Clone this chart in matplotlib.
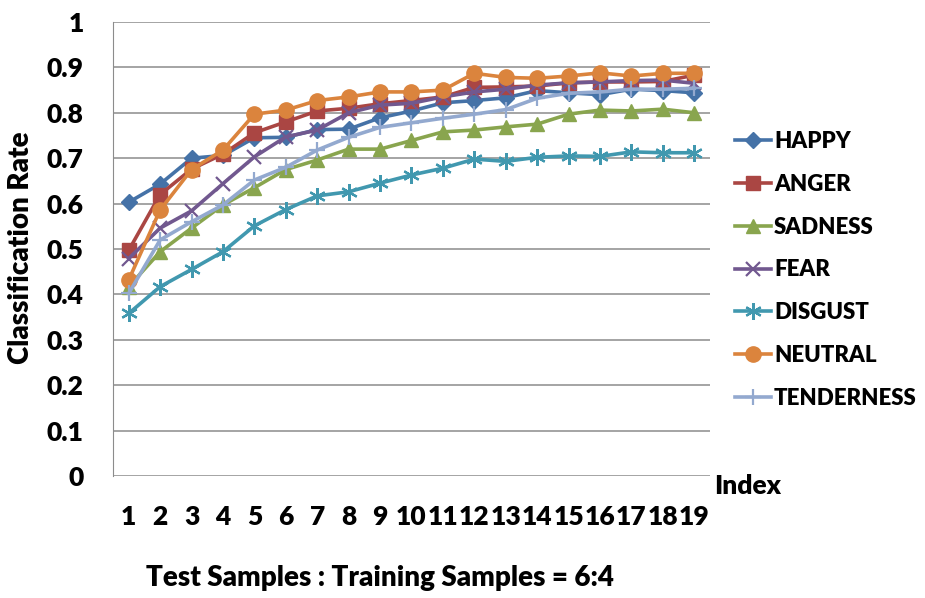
import matplotlib
matplotlib.use("Agg")
import matplotlib.pyplot as plt
import numpy as np

plt.rcParams['font.family'] = ['Lato', 'DejaVu Sans']

index = list(range(1, 20))
happy = [0.603, 0.643, 0.700, 0.706, 0.745, 0.746, 0.763, 0.764, 0.789, 0.804, 0.822, 0.827, 0.833, 0.849, 0.844, 0.840, 0.852, 0.849, 0.844]
anger = [0.497, 0.620, 0.676, 0.709, 0.756, 0.780, 0.804, 0.810, 0.820, 0.827, 0.835, 0.856, 0.857, 0.859, 0.866, 0.868, 0.868, 0.869, 0.883]
sadness = [0.417, 0.494, 0.546, 0.597, 0.635, 0.675, 0.696, 0.720, 0.720, 0.739, 0.758, 0.762, 0.769, 0.775, 0.797, 0.806, 0.804, 0.808, 0.800]
fear = [0.479, 0.546, 0.584, 0.644, 0.703, 0.747, 0.762, 0.800, 0.817, 0.821, 0.835, 0.846, 0.852, 0.861, 0.866, 0.868, 0.871, 0.872, 0.865]
disgust = [0.358, 0.417, 0.455, 0.494, 0.551, 0.587, 0.617, 0.626, 0.645, 0.663, 0.678, 0.698, 0.693, 0.702, 0.705, 0.704, 0.714, 0.712, 0.712]
neutral = [0.432, 0.586, 0.675, 0.718, 0.797, 0.806, 0.827, 0.835, 0.846, 0.846, 0.850, 0.887, 0.878, 0.876, 0.881, 0.888, 0.881, 0.887, 0.887]
tenderness = [0.402, 0.520, 0.560, 0.597, 0.652, 0.680, 0.718, 0.746, 0.768, 0.778, 0.788, 0.797, 0.807, 0.832, 0.843, 0.846, 0.852, 0.852, 0.854]

series = [
    ("HAPPY", happy, "#4572A7", "D", 8.5),
    ("ANGER", anger, "#AA4643", "s", 9.5),
    ("SADNESS", sadness, "#89A54E", "^", 10),
    ("FEAR", fear, "#71588F", "x", 9.5),
    ("DISGUST", disgust, "#4198AF", (6, 2, 0), 12),
    ("NEUTRAL", neutral, "#DB843D", "o", 11),
    ("TENDERNESS", tenderness, "#93A9CF", "+", 11),
]

fig = plt.figure(figsize=(9.25, 5.98), dpi=100)
ax = fig.add_axes([113/925, 1-476/598, (710-113)/925, (476-22)/598])

for name, vals, color, marker, ms in series:
    kw = dict(color=color, lw=2.6, marker=marker, markersize=ms, label=name)
    if marker in ("x", "+") or isinstance(marker, tuple):
        kw.update(markeredgewidth=1.6)
    ax.plot(index, vals, **kw)

ax.set_ylim(0, 1)
ax.set_xlim(0.5, 19.5)
ax.set_yticks(np.arange(0, 1.01, 0.1))
ax.set_yticklabels(["0"] + [f"{v:.1f}" for v in np.arange(0.1, 0.95, 0.1)] + ["1"])
ax.set_xticks(index)
ax.set_xticklabels([str(i) for i in index])
ax.yaxis.grid(True, color="#8c8c8c", lw=1.1)
ax.set_axisbelow(True)
for s in ["top", "right", "bottom"]:
    ax.spines[s].set_visible(False)
ax.spines["left"].set_color("#8c8c8c")
ax.tick_params(axis="both", length=0, labelsize=19)
ax.tick_params(axis="y", pad=21)
ax.tick_params(axis="x", pad=21)
for lab in ax.get_xticklabels() + ax.get_yticklabels():
    lab.set_fontweight("heavy")

ax.set_ylabel("Classification Rate", fontsize=20, fontweight="heavy")
ax.yaxis.set_label_coords(-(113-34)/597, (476-248)/454)
fig.text(748/925, 1-486/598, "Index", fontsize=19, fontweight="heavy", ha="center", va="center")
fig.text(380/925, 1-578/598, "Test Samples : Training Samples = 6:4", fontsize=20,
         fontweight="heavy", ha="center", va="center")

leg = ax.legend(loc="center left", bbox_to_anchor=(735/925, 1-270/598), bbox_transform=fig.transFigure,
                frameon=False, handlelength=1.6, labelspacing=0.98, handletextpad=0.15,
                borderpad=0, borderaxespad=0,
                prop={"weight": "heavy", "size": 16})

fig.savefig("out.png", dpi=100)
